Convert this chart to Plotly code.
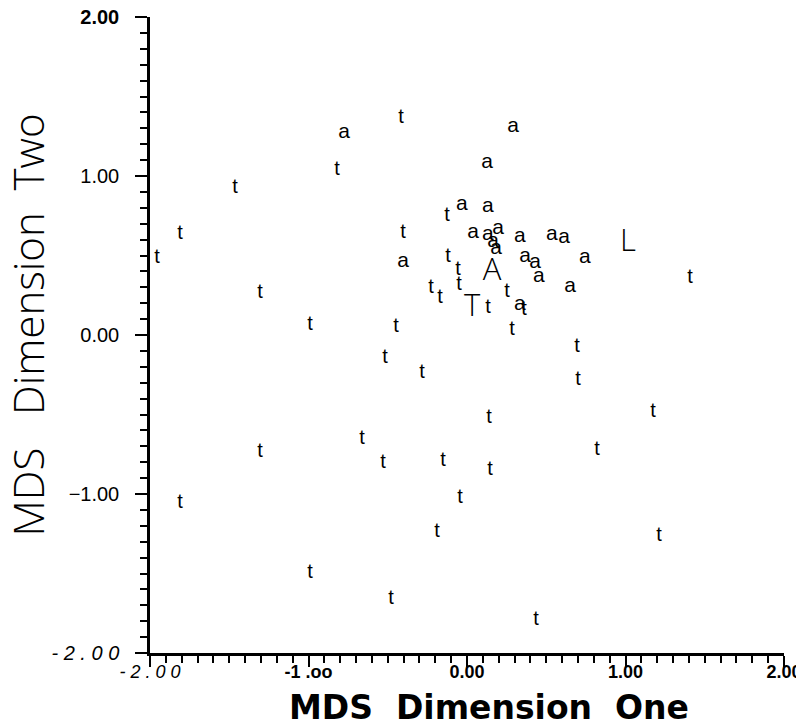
import plotly.graph_objects as go

# --- data ---
t_x = [-0.416, -0.820, -1.464, -1.811, -1.956, -1.306, -0.991, -0.404, -0.448, -0.517,
       -0.284, -0.126, -0.120, -0.057, -0.050, -0.227, -0.170, 0.132, 0.252, 0.284,
       0.360, 0.694, 0.700, 0.139, 1.174, 1.407, 0.820, -0.662, -1.306, -0.530,
       -0.151, 0.145, -0.044, -1.811, -0.189, 1.211, -0.991, -0.479, 0.435]
t_y = [1.365, 1.038, 0.925, 0.635, 0.484, 0.264, 0.063, 0.642, 0.050, -0.145,
       -0.239, 0.748, 0.491, 0.409, 0.314, 0.296, 0.233, 0.170, 0.270, 0.031,
       0.157, -0.075, -0.283, -0.522, -0.484, 0.358, -0.723, -0.654, -0.736, -0.805,
       -0.792, -0.849, -1.025, -1.057, -1.239, -1.264, -1.497, -1.660, -1.792]

a_x = [-0.776, 0.290, 0.126, -0.032, 0.132, 0.038, 0.132, 0.196, 0.164, 0.183,
       0.334, 0.536, 0.612, -0.404, 0.366, 0.429, 0.454, 0.744, 0.650, 0.334]
a_y = [1.270, 1.308, 1.082, 0.818, 0.805, 0.642, 0.629, 0.667, 0.585, 0.541,
       0.616, 0.629, 0.610, 0.459, 0.491, 0.453, 0.365, 0.484, 0.302, 0.189]

cap_labels = ["A", "T", "L"]
cap_x = [0.158, 0.032, 1.016]
cap_y = [0.396, 0.170, 0.579]

x_tickvals = [-2, -1, 0, 1, 2]
x_ticktext = ["<i>- 2 . 0 0</i>", "<b>-1 .oo</b>", "<b>0.00</b>", "<b>1.00</b>", "<b>2.00</b>"]
y_tickvals = [-2, -1, 0, 1, 2]
y_ticktext = ["<i>- 2 . 0 0</i>", "\u22121.00", "0.00", "1.00", "<b>2.00</b>"]

x_title = "MDS  Dimension  One"
y_title = "MDS   Dimension  Two"

LIGHT = "Open Sans"

fig = go.Figure()
fig.add_trace(go.Scatter(x=t_x, y=t_y, mode="text", text=["t"] * len(t_x),
                         textfont=dict(family="Liberation Sans", size=20, color="black"),
                         hoverinfo="skip", showlegend=False))
fig.add_trace(go.Scatter(x=a_x, y=a_y, mode="text", text=["a"] * len(a_x),
                         textfont=dict(family="Liberation Sans", size=21, color="black"),
                         hoverinfo="skip", showlegend=False))
fig.add_trace(go.Scatter(x=cap_x, y=cap_y, mode="text", text=cap_labels,
                         textfont=dict(family=LIGHT, size=31, color="black", weight=300),
                         hoverinfo="skip", showlegend=False))

axis_common = dict(
    range=[-2, 2], showgrid=False, zeroline=False, automargin=False,
    showline=True, linecolor="black", linewidth=2.5,
    ticks="outside", tickwidth=2, tickcolor="black",
    tickmode="array", ticklabeloverflow="allow",
    minor=dict(dtick=0.1, tick0=0, ticks="outside", ticklen=7, tickwidth=2, tickcolor="black"),
)

# page body has an 8px margin, so the figure is sized to fit the 804x722 window
fig.update_layout(
    width=796, height=714,
    margin=dict(l=142, r=20, t=9, b=69, autoexpand=False),
    paper_bgcolor="white", plot_bgcolor="white",
    xaxis=dict(**axis_common, tickvals=x_tickvals, ticktext=x_ticktext, ticklen=11,
               ticklabelstandoff=-10,
               tickfont=dict(family="Liberation Sans", size=18, color="black")),
    yaxis=dict(**axis_common, tickvals=y_tickvals, ticktext=y_ticktext, ticklen=12,
               ticklabelstandoff=12,
               tickfont=dict(family="Liberation Sans", size=20, color="black")),
    annotations=[
        dict(text=x_title, xref="paper", yref="paper", x=0.534, y=-0.085,
             xanchor="center", yanchor="middle", showarrow=False,
             font=dict(family="DejaVu Sans", size=33, color="black", weight="bold")),
        dict(text=y_title, xref="paper", yref="paper", x=-0.194, y=0.515,
             xanchor="center", yanchor="middle", showarrow=False, textangle=-90,
             font=dict(family=LIGHT, size=42, color="black", weight=300)),
    ],
)

fig.write_html("out.html")
